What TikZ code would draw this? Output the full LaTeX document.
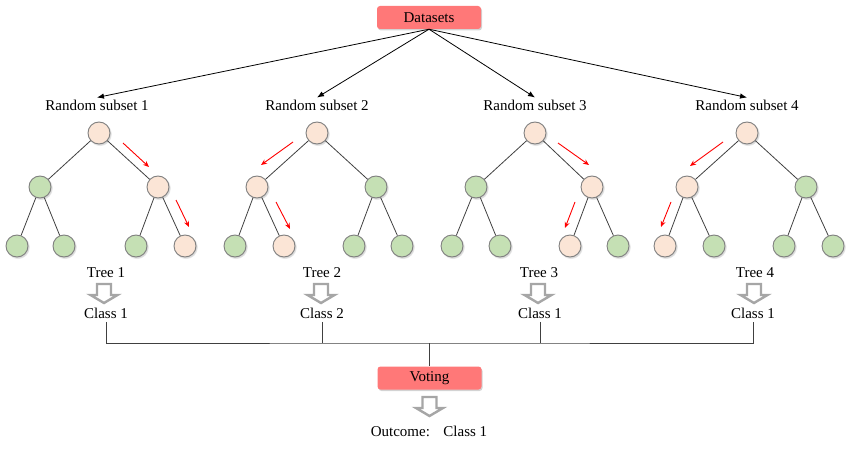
\documentclass[tikz,border=0pt]{standalone}
\usepackage{fontspec}
\setmainfont{Liberation Serif}
\usetikzlibrary{arrows.meta,shadows}
\definecolor{boxred}{HTML}{FF7878}
\definecolor{peachc}{HTML}{FBE5D6}
\definecolor{greenc}{HTML}{C5E0B4}
\definecolor{circgray}{HTML}{7F7F7F}
\definecolor{edgegray}{HTML}{404040}
\definecolor{hollowgray}{HTML}{A6A6A6}
\tikzset{
  redbox/.style={fill=boxred, rounded corners=3pt, minimum width=104pt, minimum height=23pt, inner sep=0pt,
    drop shadow={shadow xshift=1pt, shadow yshift=-1.5pt, opacity=0.35}},
  circbase/.style={circle, draw=circgray, line width=0.9pt, minimum size=22pt, inner sep=0pt,
    circular drop shadow={shadow xshift=0.8pt, shadow yshift=-1pt, opacity=0.3}},
  pnode/.style={circbase, fill=peachc},
  gnode/.style={circbase, fill=greenc},
  treeedge/.style={draw=edgegray, line width=0.8pt},
  redarr/.style={draw=red, line width=0.9pt, -{Stealth[length=6pt,width=5pt]}},
  dsarr/.style={draw=black, line width=0.8pt, -{Latex[length=7pt,width=5.5pt]}},
  joinline/.style={draw=edgegray, line width=0.8pt},
  lbl/.style={inner sep=2pt},
  classlbl/.style={inner xsep=2pt, inner ysep=3.5pt},
  hollow/.pic={\draw[hollowgray, line width=2.4pt, fill=white, line join=miter]
     (-7,0) -- (7,0) -- (7,11) -- (13.5,11) -- (0,19) -- (-13.5,11) -- (-7,11) -- cycle;}
}
\begin{document}
\begin{tikzpicture}[x=1pt,y=-1pt, font=\fontsize{15}{18}\selectfont]
\useasboundingbox (0,0) rectangle (850,457);

% top box
\node[redbox] (ds) at (429,17.5) {Datasets};

% subset labels
\node[lbl] (rs1) at (97,105) {Random subset 1};
\node[lbl] (rs2) at (317,105) {Random subset 2};
\node[lbl] (rs3) at (535,105) {Random subset 3};
\node[lbl] (rs4) at (747,105) {Random subset 4};
\foreach \r in {rs1,rs2,rs3,rs4} \draw[dsarr] (ds.south) -- (\r.north);

% tree 1
\node[pnode] (t1r) at (99,133) {};
\node[gnode] (t1a) at (40,187) {};
\node[pnode] (t1b) at (158,187) {};
\node[gnode] (t1aa) at (17,246) {};
\node[gnode] (t1ab) at (64,246) {};
\node[gnode] (t1ba) at (136,246) {};
\node[pnode] (t1bb) at (185,246) {};
% tree 2
\node[pnode] (t2r) at (317,133) {};
\node[pnode] (t2a) at (257,187) {};
\node[gnode] (t2b) at (376,187) {};
\node[gnode] (t2aa) at (235,246) {};
\node[pnode] (t2ab) at (284,246) {};
\node[gnode] (t2ba) at (354,246) {};
\node[gnode] (t2bb) at (402,246) {};
% tree 3
\node[pnode] (t3r) at (535,133) {};
\node[gnode] (t3a) at (476,187) {};
\node[pnode] (t3b) at (592,187) {};
\node[gnode] (t3aa) at (452,246) {};
\node[gnode] (t3ab) at (500,246) {};
\node[pnode] (t3ba) at (570,246) {};
\node[gnode] (t3bb) at (618,246) {};
% tree 4
\node[pnode] (t4r) at (747,133) {};
\node[pnode] (t4a) at (687,187) {};
\node[gnode] (t4b) at (806,187) {};
\node[pnode] (t4aa) at (665,246) {};
\node[gnode] (t4ab) at (714,246) {};
\node[gnode] (t4ba) at (784,246) {};
\node[gnode] (t4bb) at (833,246) {};

\foreach \t in {t1,t2,t3,t4}{
  \draw[treeedge] (\t r) -- (\t a);
  \draw[treeedge] (\t r) -- (\t b);
  \draw[treeedge] (\t a) -- (\t aa);
  \draw[treeedge] (\t a) -- (\t ab);
  \draw[treeedge] (\t b) -- (\t ba);
  \draw[treeedge] (\t b) -- (\t bb);
}

% red path arrows
\draw[redarr] ([shift={(24,10)}]t1r.center) -- ([shift={(50,34)}]t1r.center);
\draw[redarr] ([shift={(18,13)}]t1b.center) -- ([shift={(31,40)}]t1b.center);
\draw[redarr] ([shift={(-24,9)}]t2r.center) -- ([shift={(-56,32)}]t2r.center);
\draw[redarr] ([shift={(19,15)}]t2a.center) -- ([shift={(33,42)}]t2a.center);
\draw[redarr] ([shift={(23,10)}]t3r.center) -- ([shift={(54,32)}]t3r.center);
\draw[redarr] ([shift={(-17,15)}]t3b.center) -- ([shift={(-27,41)}]t3b.center);
\draw[redarr] ([shift={(-24,9)}]t4r.center) -- ([shift={(-57,33)}]t4r.center);
\draw[redarr] ([shift={(-16,15)}]t4a.center) -- ([shift={(-26,40)}]t4a.center);

% tree labels, hollow arrows, classes
\node[lbl] (tl1) at (106,273) {Tree 1};
\node[lbl] (tl2) at (322,273) {Tree 2};
\node[lbl] (tl3) at (539,273) {Tree 3};
\node[lbl] (tl4) at (755,273) {Tree 4};
\pic at (104,284) {hollow};
\pic at (321,284) {hollow};
\pic at (538,284) {hollow};
\pic at (754,284) {hollow};
\node[classlbl] (c1) at (106,313) {Class 1};
\node[classlbl] (c2) at (322,313) {Class 2};
\node[classlbl] (c3) at (540,313) {Class 1};
\node[classlbl] (c4) at (753,313) {Class 1};

% joining lines
\node[redbox] (vote) at (429.5,378) {Voting};
\coordinate (h) at (429.5,343);
\draw[joinline] (c1.south) |- (h) -| (c4.south);
\draw[joinline] (c2.south) -- (c2.south |- h);
\draw[joinline] (c3.south) -- (c3.south |- h);
\draw[joinline] (h) -- (vote.north);

% outcome
\pic at (429.5,397) {hollow};
\node[lbl] (out) at (429,431) {Outcome:\hspace{0.9em}Class 1};
\end{tikzpicture}
\end{document}
